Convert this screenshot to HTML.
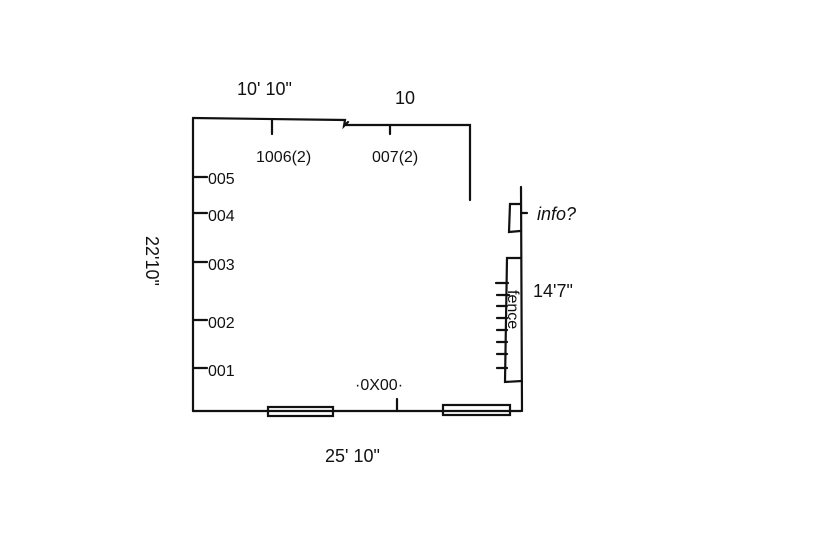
<!DOCTYPE html>
<html><head><meta charset="utf-8"><style>
html,body{margin:0;padding:0;background:#fff;}
svg{display:block}
text{font-family:"Liberation Sans",sans-serif;fill:#111;}
</style></head><body>
<svg width="822" height="540" viewBox="0 0 822 540">
<g stroke="#111" stroke-width="2.2" fill="none" stroke-linecap="round">
<path d="M193,118 L345,120 L344,126 L348,122"/>
<path d="M346,125 L470,125 L470,200"/>
<path d="M193,118 L193,411"/>
<path d="M193,411 L521,411"/>
<path d="M521,187 L522,411"/>
<path d="M272,120 L272,134"/>
<path d="M390,125 L390,134"/>
<path d="M193,177 L207,177"/>
<path d="M193,213 L207,213"/>
<path d="M193,262 L207,262"/>
<path d="M193,320 L207,320"/>
<path d="M193,368 L207,368"/>
<path d="M397,399 L397,411"/>
<path d="M521,204 L510,204 L509,232 L520,231 M521,213 L527,213"/>
<path d="M521,258 L507,258 L505,382 L522,381"/>
<path d="M496,283h12M497,295h12M497,306h10M497,318h10M497,330h10M497,342h10M497,354h10M497,368h10"/>
<rect x="268" y="407" width="65" height="9"/>
<rect x="443" y="405" width="67" height="10"/>
</g>
<g font-size="18">
<text x="237" y="95">10' 10"</text>
<text x="395" y="104">10</text>
<text x="256" y="162" font-size="16">1006(2)</text>
<text x="372" y="162" font-size="16">007(2)</text>
<text x="208" y="184" font-size="16">005</text>
<text x="208" y="221" font-size="16">004</text>
<text x="208" y="270" font-size="16">003</text>
<text x="208" y="328" font-size="16">002</text>
<text x="208" y="376" font-size="16">001</text>
<text x="355" y="390" font-size="16">·0X00·</text>
<text x="325" y="462">25' 10"</text>
<text x="537" y="220" font-style="italic">info?</text>
<text x="533" y="297">14'7"</text>
<text transform="translate(508,290) rotate(90)" font-size="16">fence</text>
<text transform="translate(146,236) rotate(90)">22'10"</text>
</g>
</svg>
</body></html>
